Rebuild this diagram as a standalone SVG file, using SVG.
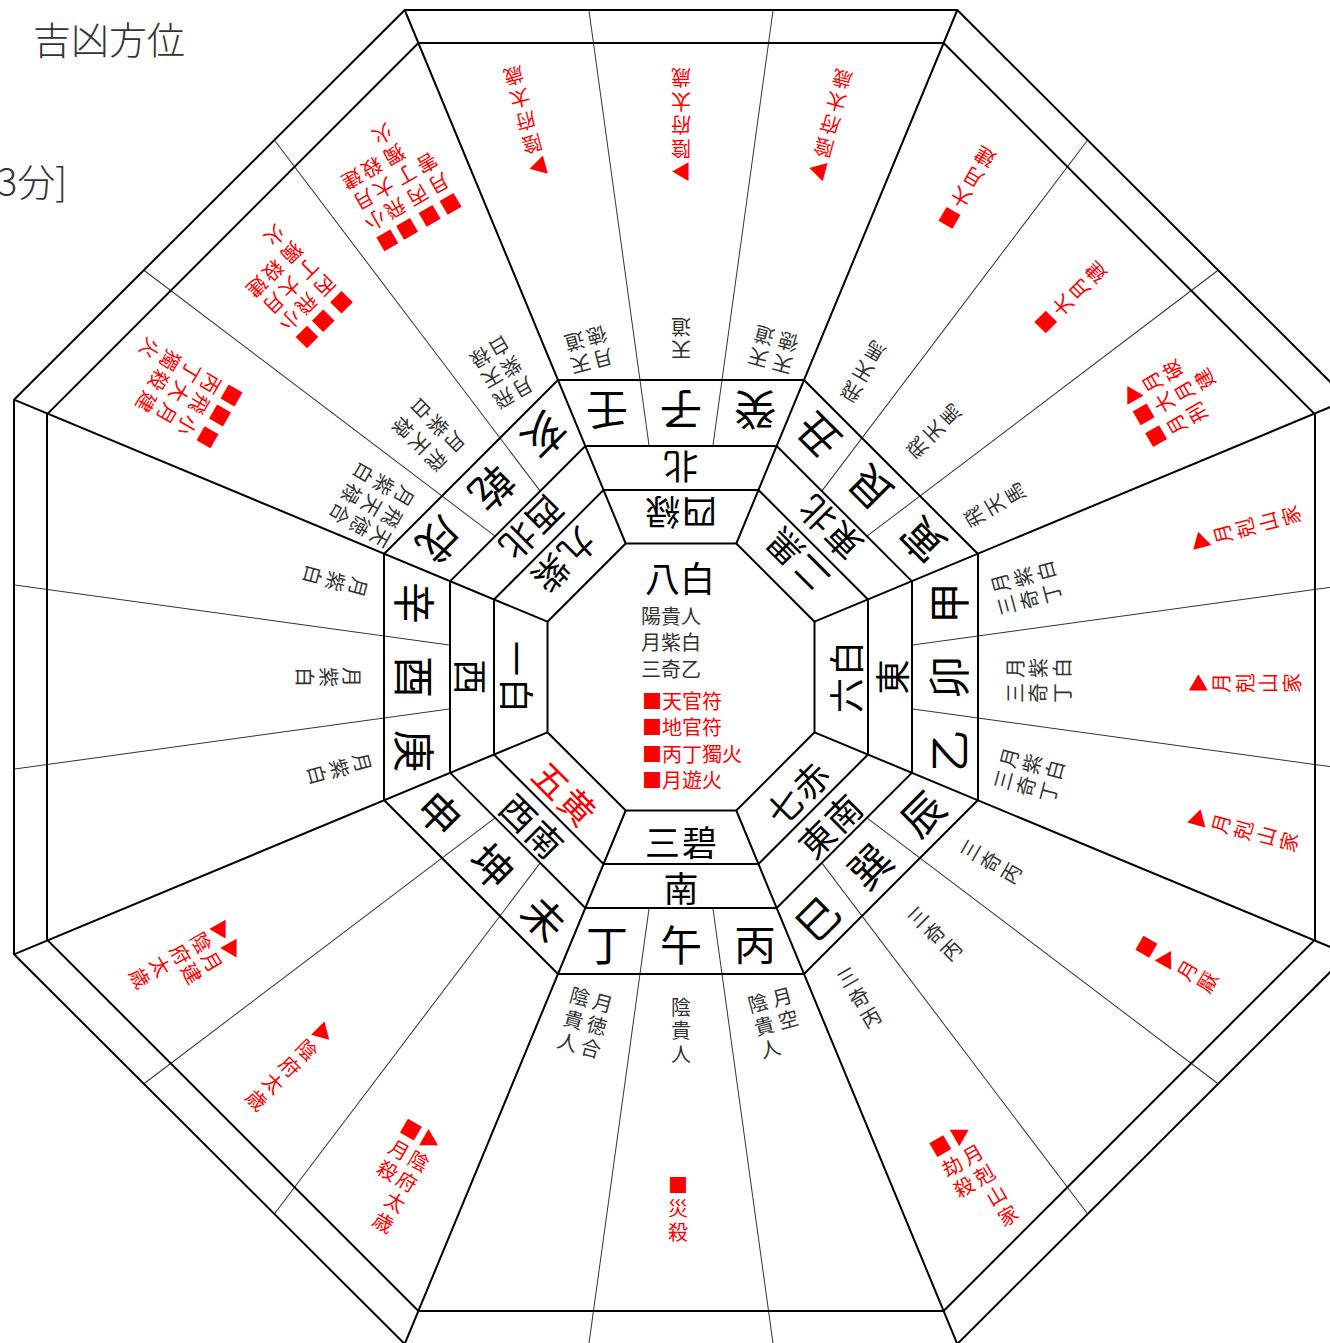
<svg xmlns="http://www.w3.org/2000/svg" xmlns:xlink="http://www.w3.org/1999/xlink" width="1330" height="1343" viewBox="0 0 1330 1343">
<style>
.thick{fill:none;stroke:#000;stroke-width:2}
.thin{fill:none;stroke:#333;stroke-width:1}
text{font-family:"Noto Sans CJK JP","Noto Sans CJK SC",sans-serif;dominant-baseline:central}
.c{text-anchor:middle}
.v{writing-mode:vertical-rl;text-orientation:upright;letter-spacing:3.5px;text-anchor:start}
.m{font-size:42px;fill:#000}
.d{font-size:35px;fill:#000}
.s{font-size:20px;fill:#333}
.r{font-size:20px;fill:#f00}
.dr{font-size:35px;fill:#f00}
.tl{font-size:38px;fill:#333;font-weight:300}
</style>
<defs>
<g id="thinpair"><line class="thin" x1="649.1" y1="446" x2="588.9" y2="10"/><line class="thin" x1="712.9" y1="446" x2="773.1" y2="10"/></g>
</defs>
<rect width="1330" height="1343" fill="#fff"/>
<g id="connectors">
<use xlink:href="#thinpair"/>
<use xlink:href="#thinpair" transform="rotate(45 681 677)"/>
<use xlink:href="#thinpair" transform="rotate(90 681 677)"/>
<use xlink:href="#thinpair" transform="rotate(135 681 677)"/>
<use xlink:href="#thinpair" transform="rotate(180 681 677)"/>
<use xlink:href="#thinpair" transform="rotate(225 681 677)"/>
<use xlink:href="#thinpair" transform="rotate(270 681 677)"/>
<use xlink:href="#thinpair" transform="rotate(315 681 677)"/>
<polygon class="thick" points="736.3,543.5 814.5,621.7 814.5,732.3 736.3,810.5 625.7,810.5 547.5,732.3 547.5,621.7 625.7,543.5"/>
<polygon class="thick" points="758.5,490 868,599.5 868,754.5 758.5,864 603.5,864 494,754.5 494,599.5 603.5,490"/>
<polygon class="thick" points="776.7,446 912,581.3 912,772.7 776.7,908 585.3,908 450,772.7 450,581.3 585.3,446"/>
<polygon class="thick" points="804,380 978,554 978,800 804,974 558,974 384,800 384,554 558,380"/>
<polygon class="thick" points="943.6,43 1315,414.4 1315,939.6 943.6,1311 418.4,1311 47,939.6 47,414.4 418.4,43"/>
<polygon class="thick" points="957.3,10 1348,399.7 1348,954.3 957.3,1344 404.7,1344 14,954.3 14,399.7 404.7,10"/>
<line class="thick" x1="736.3" y1="543.5" x2="957.3" y2="10"/>
<line class="thick" x1="814.5" y1="621.7" x2="1348" y2="399.7"/>
<line class="thick" x1="814.5" y1="732.3" x2="1348" y2="954.3"/>
<line class="thick" x1="736.3" y1="810.5" x2="957.3" y2="1344"/>
<line class="thick" x1="625.7" y1="810.5" x2="404.7" y2="1344"/>
<line class="thick" x1="547.5" y1="732.3" x2="14" y2="954.3"/>
<line class="thick" x1="547.5" y1="621.7" x2="14" y2="399.7"/>
<line class="thick" x1="625.7" y1="543.5" x2="404.7" y2="10"/>
</g>
<g id="title">
<text class="tl" x="33" y="37">吉凶方位</text>
<text class="tl" x="-3" y="179">3分]</text>
</g>
<g id="center">
<text class="c d" x="680" y="576">八白</text>
<text class="s" x="641" y="615">陽貴人</text>
<text class="s" x="641" y="641.5">月紫白</text>
<text class="s" x="641" y="668">三奇乙</text>
<text class="r" x="642" y="700">■天官符</text>
<text class="r" x="642" y="726.5">■地官符</text>
<text class="r" x="642" y="753">■丙丁獨火</text>
<text class="r" x="642" y="779.5">■月遊火</text>
</g>
<g id="sector-n" transform="translate(681 677) rotate(-180)">
<text class="c m" x="74" y="265">壬</text><text class="c m" x="0" y="265">子</text><text class="c m" x="-74" y="265">癸</text>
<text class="c d" x="0" y="209">北</text>
<text class="c d" x="-18.5" y="163">四</text><text class="c d" x="18.5" y="163">緑</text>
</g>
<g id="sector-ne" transform="translate(681 677) rotate(-135)">
<text class="c m" x="74" y="265">丑</text><text class="c m" x="0" y="265">艮</text><text class="c m" x="-74" y="265">寅</text>
<text class="c d" x="-18.5" y="209">東</text><text class="c d" x="18.5" y="209">北</text>
<text class="c d" x="-18.5" y="163">二</text><text class="c d" x="18.5" y="163">黒</text>
</g>
<g id="sector-e" transform="translate(681 677) rotate(-90)">
<text class="c m" x="74" y="265">甲</text><text class="c m" x="0" y="265">卯</text><text class="c m" x="-74" y="265">乙</text>
<text class="c d" x="0" y="209">東</text>
<text class="c d" x="-18.5" y="163">六</text><text class="c d" x="18.5" y="163">白</text>
</g>
<g id="sector-se" transform="translate(681 677) rotate(-45)">
<text class="c m" x="74" y="265">辰</text><text class="c m" x="0" y="265">巽</text><text class="c m" x="-74" y="265">巳</text>
<text class="c d" x="-18.5" y="209">東</text><text class="c d" x="18.5" y="209">南</text>
<text class="c d" x="-18.5" y="163">七</text><text class="c d" x="18.5" y="163">赤</text>
</g>
<g id="sector-s" transform="translate(681 677)">
<text class="c m" x="74" y="265">丙</text><text class="c m" x="0" y="265">午</text><text class="c m" x="-74" y="265">丁</text>
<text class="c d" x="0" y="209">南</text>
<text class="c d" x="-18.5" y="163">三</text><text class="c d" x="18.5" y="163">碧</text>
</g>
<g id="sector-sw" transform="translate(681 677) rotate(45)">
<text class="c m" x="74" y="265">未</text><text class="c m" x="0" y="265">坤</text><text class="c m" x="-74" y="265">申</text>
<text class="c d" x="-18.5" y="209">西</text><text class="c d" x="18.5" y="209">南</text>
<text class="c dr" x="-18.5" y="163">五</text><text class="c dr" x="18.5" y="163">黄</text>
</g>
<g id="sector-w" transform="translate(681 677) rotate(90)">
<text class="c m" x="74" y="265">庚</text><text class="c m" x="0" y="265">酉</text><text class="c m" x="-74" y="265">辛</text>
<text class="c d" x="0" y="209">西</text>
<text class="c d" x="-18.5" y="163">一</text><text class="c d" x="18.5" y="163">白</text>
</g>
<g id="sector-nw" transform="translate(681 677) rotate(135)">
<text class="c m" x="74" y="265">戌</text><text class="c m" x="0" y="265">乾</text><text class="c m" x="-74" y="265">亥</text>
<text class="c d" x="-18.5" y="209">西</text><text class="c d" x="18.5" y="209">北</text>
<text class="c d" x="-18.5" y="163">九</text><text class="c d" x="18.5" y="163">紫</text>
</g>
<g id="m345" transform="translate(681 677) rotate(165)">
<text class="v s" x="16" y="318">天道</text>
<text class="v s" x="-7" y="318">月徳</text>
<text class="v r" x="6" y="520">▶陰府太歳</text>
</g>
<g id="m000" transform="translate(681 677) rotate(-180)">
<text class="v s" x="0" y="317">天道</text>
<text class="v r" x="0" y="495">▶陰府太歳</text>
</g>
<g id="m015" transform="translate(681 677) rotate(-165)">
<text class="v s" x="8" y="318">天道</text>
<text class="v s" x="-17" y="318">天徳</text>
<text class="v r" x="-1" y="515">▶陰府太歳</text>
</g>
<g id="m030" transform="translate(681 677) rotate(-150)">
<text class="v s" x="-5" y="322">飛天馬</text>
<text class="v r" x="-3" y="522">■大月建</text>
</g>
<g id="m045" transform="translate(681 677) rotate(-135)">
<text class="v s" x="-5" y="319">飛天馬</text>
<text class="v r" x="-7" y="499">■大月建</text>
</g>
<g id="m060" transform="translate(681 677) rotate(-120)">
<text class="v s" x="-8" y="324">飛天馬</text>
<text class="v r" x="20" y="522">▶月破</text>
<text class="v r" x="-4" y="522">■大月建</text>
<text class="v r" x="-29" y="522">■月刑</text>
</g>
<g id="m075" transform="translate(681 677) rotate(-105)">
<text class="v s" x="8" y="323">月紫白</text>
<text class="v s" x="-15" y="323">三奇丁</text>
<text class="v r" x="-2" y="527">▶月剋山家</text>
</g>
<g id="m090" transform="translate(681 677) rotate(-90)">
<text class="v s" x="9" y="324">月紫白</text>
<text class="v s" x="-16" y="324">三奇丁</text>
<text class="v r" x="-6" y="507">▶月剋山家</text>
</g>
<g id="m105" transform="translate(681 677) rotate(-75)">
<text class="v s" x="7" y="328">月紫白</text>
<text class="v s" x="-16" y="328">三奇丁</text>
<text class="v r" x="-2" y="526">▶月剋山家</text>
</g>
<g id="m120" transform="translate(681 677) rotate(-60)">
<text class="v s" x="-5" y="327">三奇丙</text>
<text class="v r" x="-1" y="528">■▶月厭</text>
</g>
<g id="m135" transform="translate(681 677) rotate(-45)">
<text class="v s" x="-2" y="327">三奇丙</text>
</g>
<g id="m150" transform="translate(681 677) rotate(-30)">
<text class="v s" x="-6" y="333">三奇丙</text>
<text class="v r" x="14" y="526">▶月剋山家</text>
<text class="v r" x="-10" y="526">■劫殺</text>
</g>
<g id="m165" transform="translate(681 677) rotate(-15)">
<text class="v s" x="15" y="325">月空</text>
<text class="v s" x="-10" y="325">陰貴人</text>
</g>
<g id="m180" transform="translate(681 677)">
<text class="v s" x="0" y="320">陰貴人</text>
<text class="v r" x="-3" y="498">■災殺</text>
</g>
<g id="m195" transform="translate(681 677) rotate(15)">
<text class="v s" x="9" y="325">月徳合</text>
<text class="v s" x="-15" y="325">陰貴人</text>
</g>
<g id="m210" transform="translate(681 677) rotate(30)">
<text class="v r" x="15" y="517">▶陰府太歳</text>
<text class="v r" x="-7.5" y="517">■月殺</text>
</g>
<g id="m225" transform="translate(681 677) rotate(45)">
<text class="v r" x="-1" y="495">▶陰府太歳</text>
</g>
<g id="m240" transform="translate(681 677) rotate(60)">
<text class="v r" x="12" y="515">▶月建</text>
<text class="v r" x="-10" y="515">▶陰府太歳</text>
</g>
<g id="m255" transform="translate(681 677) rotate(75)">
<text class="v s" x="0" y="320">月紫白</text>
</g>
<g id="m270" transform="translate(681 677) rotate(90)">
<text class="v s" x="0" y="319">月紫白</text>
</g>
<g id="m285" transform="translate(681 677) rotate(105)">
<text class="v s" x="-3" y="325">月紫白</text>
</g>
<g id="m300" transform="translate(681 677) rotate(120)">
<text class="v s" x="-18" y="320">月紫白</text>
<text class="v s" x="6" y="320">飛天禄</text>
<text class="v s" x="29" y="320">天徳合</text>
<text class="v r" x="-19" y="520">■丙丁獨火</text>
<text class="v r" x="4" y="520">■飛大殺</text>
<text class="v r" x="29" y="520">■小月建</text>
</g>
<g id="m315" transform="translate(681 677) rotate(135)">
<text class="v s" x="-6" y="316">月紫白</text>
<text class="v s" x="20" y="316">飛天禄</text>
<text class="v r" x="-25" y="495">■丙丁獨火</text>
<text class="v r" x="1" y="495">■飛大殺</text>
<text class="v r" x="24" y="495">■小月建</text>
</g>
<g id="m330" transform="translate(681 677) rotate(150)">
<text class="v s" x="-8" y="320">月紫白</text>
<text class="v s" x="14" y="320">飛天禄</text>
<text class="v r" x="-37" y="515">■月害</text>
<text class="v r" x="-13" y="515">■丙丁獨火</text>
<text class="v r" x="13" y="515">■飛大殺</text>
<text class="v r" x="36" y="515">■小月建</text>
</g>
</svg>
